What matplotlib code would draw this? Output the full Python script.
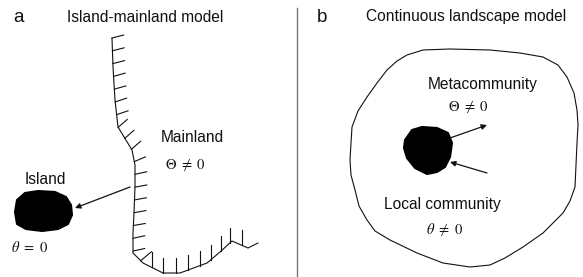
import numpy as np
import matplotlib.pyplot as plt
from matplotlib.patches import Polygon

plt.rcParams["font.family"] = ["Liberation Sans", "DejaVu Sans"]
plt.rcParams["mathtext.fontset"] = "stix"

# Shapes, in pixel coordinates of the 583x277 picture (y downwards)
coast_x = [112, 113, 115, 118, 132, 135, 135, 134, 133, 133, 143, 163, 180, 207, 220, 232, 248, 258]
coast_y = [38, 67, 100, 127, 150, 165, 187, 213, 233, 253, 263, 273, 273, 263, 252, 241, 248, 243]

island_x = [17, 25, 38, 55, 66, 71, 72, 68, 58, 42, 26, 17, 15]
island_y = [200, 193, 191, 192, 197, 205, 215, 224, 229, 231, 229, 224, 212]

outer_x = [407, 423, 450, 490, 520, 543, 558, 567, 574, 577, 578, 577, 575, 570, 563, 543, 523, 505, 490,
           470, 443, 417, 390, 375, 367, 359, 355, 351, 350, 351, 352, 358, 367, 377, 387, 397]
outer_y = [55, 50, 49, 50, 53, 57, 65, 77, 93, 110, 125, 143, 187, 201, 213, 233, 247, 258, 265,
           267, 263, 253, 240, 231, 220, 206, 190, 175, 160, 143, 127, 111, 97, 83, 70, 61]

local_x = [405, 412, 422, 437, 448, 452, 450, 445, 437, 427, 415, 407, 404]
local_y = [140, 130, 127, 128, 133, 143, 157, 167, 172, 174, 168, 158, 148]

# arrows: (tail, head)
arrows = [((130, 187), (75, 208)),
          ((450, 138), (487, 125)),
          ((487, 173), (450, 162))]

INK = "#111111"

fig = plt.figure(figsize=(5.83, 2.77), dpi=100)
ax = fig.add_axes([0, 0, 1, 1])
ax.set_xlim(0, 583)
ax.set_ylim(277, 0)
ax.axis("off")

# ---- panel a ----
cx = np.array(coast_x, float)
cy = np.array(coast_y, float)
ax.plot(cx, cy, color=INK, lw=0.8, solid_capstyle="round")

# hatch ticks along the coast, pointing into the mainland
seg = np.hypot(np.diff(cx), np.diff(cy))
s = np.concatenate([[0], np.cumsum(seg)])
for d in np.arange(0, s[-1] - 10, 12.8):
    px = np.interp(d, s, cx)
    py = np.interp(d, s, cy)
    i = min(np.searchsorted(s, d, side="right") - 1, len(seg) - 1)
    tx, ty = (cx[i + 1] - cx[i]) / seg[i], (cy[i + 1] - cy[i]) / seg[i]
    if abs(tx) > 0.55 and ty > 0 and abs(tx) < 0.75:
        nx, ny, L = 0.6, -0.5, 14
    elif abs(tx) > 0.55:
        nx, ny, L = 0.0, -1.0, 15
    else:
        nx, ny, L = ty, -tx - 0.22, 12
    n = np.hypot(nx, ny)
    ax.plot([px, px + L * nx / n], [py, py + L * ny / n], color=INK, lw=0.8)

ax.add_patch(Polygon(np.column_stack([island_x, island_y]), closed=True,
                     facecolor="black", edgecolor="black", lw=1.5, joinstyle="round"))

# ---- panel b ----
ax.add_patch(Polygon(np.column_stack([outer_x, outer_y]), closed=True,
                     facecolor="none", edgecolor=INK, lw=0.8, joinstyle="round"))
ax.add_patch(Polygon(np.column_stack([local_x, local_y]), closed=True,
                     facecolor="black", edgecolor="black", lw=1.5, joinstyle="round"))

for tail, head in arrows:
    ax.annotate("", xy=head, xytext=tail,
                arrowprops=dict(arrowstyle="-|>", color=INK, lw=0.9,
                                mutation_scale=8, shrinkA=0, shrinkB=0))

# divider
ax.plot([297, 297], [8, 277], color="#777777", lw=1.0)

# ---- text ----
FS = 11.2
ax.text(18, 17, "a", fontsize=13.5, ha="center", va="center", color=INK)
ax.text(145, 17, "Island-mainland model", fontsize=FS, ha="center", va="center", color=INK)
ax.text(192, 137, "Mainland", fontsize=FS, ha="center", va="center", color=INK)
ax.text(185, 165, r"$\Theta\ \neq\ 0$", fontsize=10.5, ha="center", va="center", color=INK)
ax.text(45, 180, "Island", fontsize=FS, ha="center", va="center", color=INK)
ax.text(30, 248, r"$\theta\ =\ 0$", fontsize=10.5, ha="center", va="center", color=INK)

ax.text(322, 17, "b", fontsize=13.5, ha="center", va="center", color=INK)
ax.text(466, 17, "Continuous landscape model", fontsize=FS, ha="center", va="center", color=INK)
ax.text(483, 85, "Metacommunity", fontsize=FS, ha="center", va="center", color=INK)
ax.text(468, 107, r"$\Theta\ \neq\ 0$", fontsize=10.5, ha="center", va="center", color=INK)
ax.text(442, 205, "Local community", fontsize=FS, ha="center", va="center", color=INK)
ax.text(445, 230, r"$\theta\ \neq\ 0$", fontsize=10.5, ha="center", va="center", color=INK)

fig.savefig("out.png", dpi=100, facecolor="white")
